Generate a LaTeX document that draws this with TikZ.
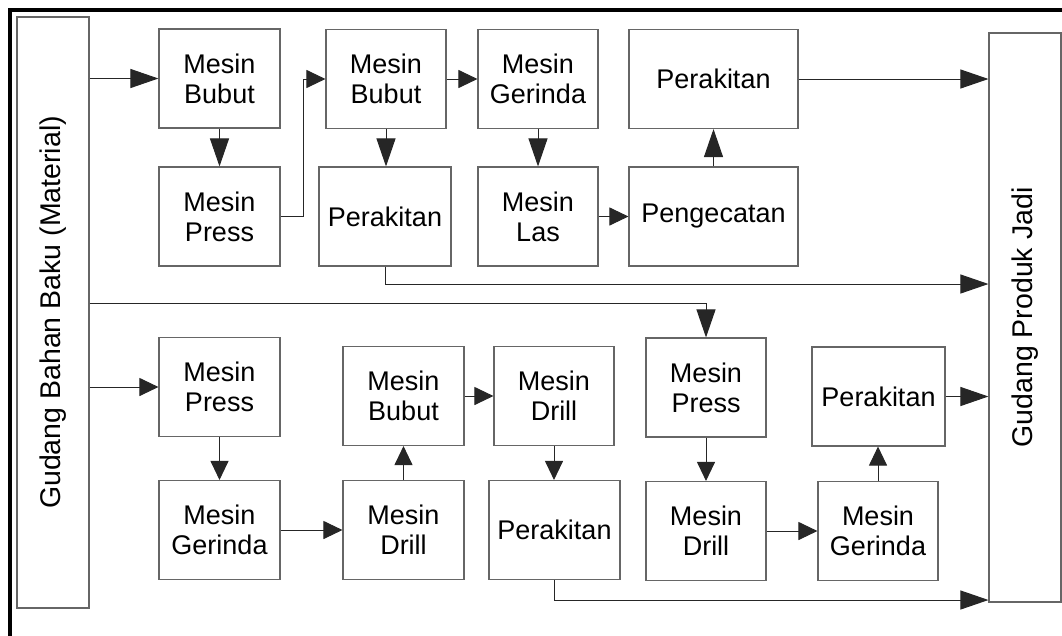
\documentclass[tikz,border=0pt]{standalone}
\usepackage{fontspec}
\setmainfont{Liberation Sans}
\usetikzlibrary{arrows.meta, positioning, calc}

\begin{document}
\begin{tikzpicture}[
  x=1pt, y=-1pt,
  proc/.style={
    rectangle, draw=black!60, line width=1.1pt,
    minimum width=121pt, minimum height=99pt,
    align=center, inner sep=2pt,
    font=\fontsize{27}{30}\selectfont,
  },
  store/.style={
    proc, minimum height=72pt, rotate=90,
    font=\fontsize{28.5}{32}\selectfont,
  },
  arrow/.style={-{Triangle[length=19pt, width=18pt]}, line width=1pt, draw=black!85},
  bigarrow/.style={-{Triangle[length=28pt, width=19pt]}, line width=1pt, draw=black!85},
]
\useasboundingbox (0,0) rectangle (1062,635);

% ── Frame
\draw[line width=4pt] (10,640) -- (10,10) -- (1066,10);

% ── Warehouses
\node[store, minimum width=591pt] (gudangBahan) at (53,312.5) {Gudang Bahan Baku (Material)};
\node[store, minimum width=569pt] (gudangProduk) at (1025,317.5) {Gudang Produk Jadi};

% ── ROW 1: upper line
\node[proc] (bubutA) at (219.5,78.5) {Mesin\\Bubut};
\node[proc] (pressA) at (219.5,216.5) {Mesin\\Press};
\node[proc, minimum width=120pt] (bubutB) at (386,79) {Mesin\\Bubut};
\node[proc, minimum width=132pt] (rakitA) at (385,216.5) {Perakitan};
\node[proc, minimum width=120pt] (gerindaA) at (538,79) {Mesin\\Gerinda};
\node[proc, minimum width=120pt] (lasA) at (538,216.5) {Mesin\\Las};
\node[proc, minimum width=169pt] (rakitB) at (713.5,79) {Perakitan};
\node[proc, minimum width=169pt] (catA) at (713.5,216.5) {Pengecatan};

% ── ROW 2: lower line
\node[proc] (pressB) at (219.5,387) {Mesin\\Press};
\node[proc] (gerindaB) at (219.5,530) {Mesin\\Gerinda};
\node[proc] (drillB) at (403.5,530) {Mesin\\Drill};
\node[proc] (bubutC) at (403.5,396) {Mesin\\Bubut};
\node[proc, minimum width=120pt] (drillC) at (554,396) {Mesin\\Drill};
\node[proc, minimum width=131pt] (rakitC) at (554.5,530) {Perakitan};
\node[proc, minimum width=120pt] (pressD) at (706,387.5) {Mesin\\Press};
\node[proc, minimum width=120pt] (drillD) at (706,531) {Mesin\\Drill};
\node[proc, minimum width=120pt] (gerindaD) at (878,531) {Mesin\\Gerinda};
\node[proc, minimum width=133pt] (rakitD) at (878.5,396.5) {Perakitan};

% ── Junctions
\coordinate (splitB) at (706,303);
\coordinate (outA) at (385,284);
\coordinate (outC) at (554.5,600);

% ── Arrows row 1
\draw[bigarrow] (gudangBahan.south |- bubutA.west) -- (bubutA.west);
\draw[bigarrow] (bubutA) -- (pressA);
\draw[arrow] (pressA.east) -- ++(23,0) |- (bubutB.west);
\draw[bigarrow] (bubutB.south) -- (bubutB.south |- rakitA.north);
\draw[arrow] (bubutB) -- (gerindaA);
\draw[bigarrow] (gerindaA) -- (lasA);
\draw[arrow] (lasA) -- (catA);
\draw[bigarrow] (catA) -- (rakitB);
\draw[bigarrow] (rakitB.east) -- (rakitB.east -| gudangProduk.north);
\draw[bigarrow] (rakitA.south) |- (outA -| gudangProduk.north);

% ── Arrows row 2
\draw[bigarrow] (gudangBahan.south |- splitB) -| (pressD.north);
\draw[arrow] (gudangBahan.south |- pressB.west) -- (pressB.west);
\draw[arrow] (pressB) -- (gerindaB);
\draw[arrow] (gerindaB) -- (drillB);
\draw[arrow] (drillB) -- (bubutC);
\draw[arrow] (bubutC) -- (drillC);
\draw[arrow] (drillC.south) -- (drillC.south |- rakitC.north);
\draw[bigarrow] (rakitC.south) |- (outC -| gudangProduk.north);
\draw[arrow] (pressD) -- (drillD);
\draw[arrow] (drillD) -- (gerindaD);
\draw[arrow] (gerindaD.north) -- (gerindaD.north |- rakitD.south);
\draw[bigarrow] (rakitD.east) -- (rakitD.east -| gudangProduk.north);

\end{tikzpicture}
\end{document}
